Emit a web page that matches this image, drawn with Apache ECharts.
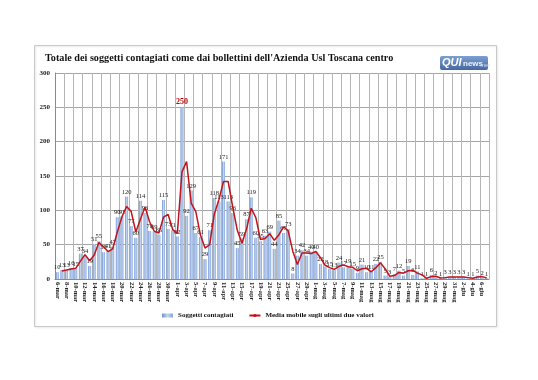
<!DOCTYPE html>
<html><head><meta charset="utf-8">
<script src="https://cdn.jsdelivr.net/npm/echarts@6/dist/echarts.min.js"></script>
<style>html,body{margin:0;padding:0;background:#fff}#c{width:538px;height:380px}</style>
</head><body><div id="c"></div>
<script>
const categories = [
"6-mar","7-mar","8-mar","9-mar","10-mar","11-mar","12-mar","13-mar","14-mar","15-mar","16-mar","17-mar","18-mar","19-mar","20-mar","21-mar","22-mar","23-mar","24-mar","25-mar","26-mar","27-mar","28-mar","29-mar","30-mar","31-mar",
"1-apr","2-apr","3-apr","4-apr","5-apr","6-apr","7-apr","8-apr","9-apr","10-apr","11-apr","12-apr","13-apr","14-apr","15-apr","16-apr","17-apr","18-apr","19-apr","20-apr","21-apr","22-apr","23-apr","24-apr","25-apr","26-apr","27-apr","28-apr","29-apr","30-apr",
"1-mag","2-mag","3-mag","4-mag","5-mag","6-mag","7-mag","8-mag","9-mag","10-mag","11-mag","12-mag","13-mag","14-mag","15-mag","16-mag","17-mag","18-mag","19-mag","20-mag","21-mag","22-mag","23-mag","24-mag","25-mag","26-mag","27-mag","28-mag","29-mag","30-mag","31-mag",
"1-giu","2-giu","3-giu","4-giu","5-giu","6-giu","7-giu"];
const contagiati = [
10,13,13,16,15,37,34,19,51,55,39,41,47,90,91,120,77,60,114,96,70,69,65,115,73,71,62,250,
92,129,67,61,29,71,118,113,171,113,96,45,59,87,119,60,55,63,69,44,85,67,73,8,34,42,34,40,40,
22,18,15,13,24,17,19,15,9,21,10,11,22,25,5,3,
7,12,5,19,6,11,1,1,6,2,1,3,3,3,3,3,1,1,5,2,1];
const mediaMobile = [
null,11.5,13,14.5,15.5,26,35.5,26.5,35,53,47,40,44,68.5,90.5,105.5,98.5,68.5,87,105,83,69.5,67,90,94,72,66.5,156,
171,110.5,98,64,45,50,94.5,115.5,142,142,104.5,70.5,52,73,103,89.5,57.5,59,66,56.5,64.5,76,70,40.5,21,38,38,37,40,
31,20,16.5,14,18.5,20.5,18,17,12,15,15.5,10.5,16.5,23.5,15,4,
5,9.5,8.5,12,12.5,8.5,6,1,3.5,4,1.5,2,3,3,3,3,2,1,3,3.5,1.5];
const yTicks = [0,50,100,150,200,250,300];

const SERIF = "'Liberation Serif', 'DejaVu Serif', serif";
const chart = echarts.init(document.getElementById('c'), null, {renderer:'canvas'});
const peak = Math.max(...contagiati);
const barData = contagiati.map(v => v === peak ? {value:v, label:{color:'#c00000', fontSize:8, fontWeight:'bold'}} : v);

chart.setOption({
  animation:false,
  backgroundColor:'#fff',
  title:{text:"Totale dei soggetti contagiati come dai bollettini dell'Azienda Usl Toscana centro",
    left:45, top:53, padding:0,
    textStyle:{fontFamily:SERIF, fontSize:10.2, fontWeight:'bold', color:'#111'}},
  graphic:[
    {type:'rect', z:-1, shape:{x:34.5,y:45.5,width:462,height:281}, style:{fill:'none', stroke:'#c8c8c8', lineWidth:1, shadowColor:'rgba(0,0,0,0.12)', shadowBlur:2, shadowOffsetX:1, shadowOffsetY:1}},
    {type:'rect', shape:{x:440,y:56,width:48,height:14,r:2},
      style:{fill:new echarts.graphic.LinearGradient(0,0,0,1,[{offset:0,color:'#7d9fd2'},{offset:1,color:'#45689f'}])}},
    {type:'text', left:442, top:57, style:{text:'QUI', fill:'#fff', font:"bold italic 11px 'Liberation Sans', sans-serif"}},
    {type:'text', left:463, top:60, style:{text:'news', fill:'#eef3fb', font:"bold 8px 'Liberation Sans', sans-serif"}},
    {type:'text', left:480, top:62, style:{text:'.net', fill:'#c9d8ef', font:"6px 'Liberation Sans', sans-serif"}}
  ],
  legend:{left:162, top:312, itemWidth:11, itemHeight:4, itemGap:15, padding:0,
    textStyle:{fontFamily:SERIF, fontSize:7, fontWeight:'bold', color:'#111'},
    data:[{name:'Soggetti contagiati', icon:'rect'}, {name:'Media mobile sugli ultimi due valori'}]},
  grid:{left:55, right:49, top:73, bottom:101, containLabel:false},
  xAxis:{type:'category', data:categories, boundaryGap:true,
    axisLine:{lineStyle:{color:'#8a8a8a'}},
    axisTick:{show:false},
    axisLabel:{interval:1, rotate:-90, margin:3, fontFamily:SERIF, fontSize:6.5, fontWeight:'bold', color:'#222'},
    splitLine:{show:true, interval:1, lineStyle:{color:'#b5b5b5', width:1}}},
  yAxis:{type:'value', min:yTicks[0], max:yTicks[yTicks.length-1], interval:50,
    axisLine:{show:true, lineStyle:{color:'#8a8a8a'}},
    axisTick:{show:false},
    axisLabel:{margin:5, fontFamily:SERIF, fontSize:7, fontWeight:'bold', color:'#222'},
    splitLine:{lineStyle:{color:'#a6a6a6', width:1}}},
  series:[
    {name:'Soggetti contagiati', type:'bar', data:barData, barWidth:'66%',
      itemStyle:{color:new echarts.graphic.LinearGradient(0,0,1,0,[{offset:0,color:'#6f92cf'},{offset:0.5,color:'#c3d5f0'},{offset:1,color:'#86a6da'}])},
      label:{show:true, position:'top', distance:1, fontFamily:SERIF, fontSize:6.5, color:'#222'}},
    {name:'Media mobile sugli ultimi due valori', type:'line', data:mediaMobile, symbol:'none', connectNulls:false,
      lineStyle:{color:'#c0141b', width:1.5}, itemStyle:{color:'#c0141b'}, z:5}
  ]
});
</script></body></html>
